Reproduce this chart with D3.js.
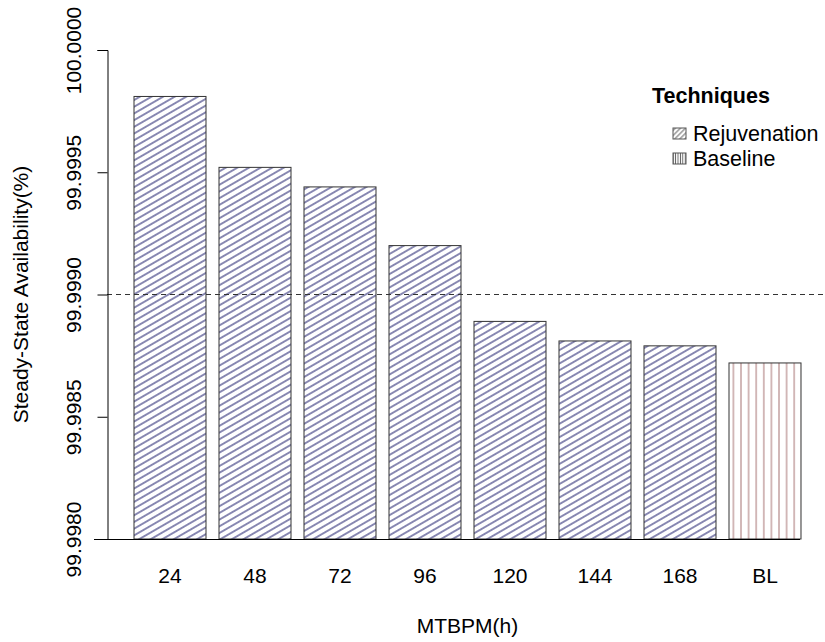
<!DOCTYPE html>
<html>
<head>
<meta charset="utf-8">
<script src="https://cdn.jsdelivr.net/npm/d3@7"></script>
<style>
  html, body { margin: 0; padding: 0; background: #fff; }
  svg { display: block; }
  text { font-family: "Liberation Sans", Arial, Helvetica, sans-serif; fill: #000; }
</style>
</head>
<body>
<svg id="chart" width="825" height="642"></svg>
<script>
// MTBPM values (hours) and the baseline, with steady-state availability in %
const categories = ["24", "48", "72", "96", "120", "144", "168", "BL"];
const availability = [99.99981, 99.99952, 99.99944, 99.99920, 99.99889, 99.99881, 99.99879, 99.99872];
const technique = ["Rejuvenation", "Rejuvenation", "Rejuvenation", "Rejuvenation",
                   "Rejuvenation", "Rejuvenation", "Rejuvenation", "Baseline"];
const yTicks = [99.9980, 99.9985, 99.9990, 99.9995, 100.0000];
const referenceLevel = 99.9990;
const legendItems = ["Rejuvenation", "Baseline"];

const svg = d3.select("#chart");
const defs = svg.append("defs");

// Hatch fills: diagonal for rejuvenation bars, vertical for the baseline bar
function hatch(id, spacing, angle, color, width) {
  const p = defs.append("pattern")
    .attr("id", id)
    .attr("patternUnits", "userSpaceOnUse")
    .attr("width", spacing)
    .attr("height", spacing)
    .attr("patternTransform", `rotate(${angle})`);
  p.append("rect").attr("width", spacing).attr("height", spacing).attr("fill", "#fff");
  p.append("line")
    .attr("x1", 0).attr("x2", spacing)
    .attr("y1", spacing / 2).attr("y2", spacing / 2)
    .attr("stroke", color).attr("stroke-width", width);
}
hatch("hatch-rejuv", 5.8, -30, "#34347c", 1.15);
hatch("hatch-base", 7.6, 90, "#b08080", 1.1);
hatch("legend-rejuv", 3.6, -45, "#555", 0.9);
hatch("legend-base", 2.4, 90, "#555", 0.9);

const fillFor = { Rejuvenation: "url(#hatch-rejuv)", Baseline: "url(#hatch-base)" };
const legendFill = { Rejuvenation: "url(#legend-rejuv)", Baseline: "url(#legend-base)" };

const x = d3.scaleBand()
  .domain(categories)
  .range([127.5, 807.5])
  .paddingInner(0.153)
  .paddingOuter(0.0765);

const y = d3.scaleLinear()
  .domain([yTicks[0], yTicks[yTicks.length - 1]])
  .range([539, 50]);

const fontSize = 21;

// Bars
svg.append("g").selectAll("rect")
  .data(categories)
  .join("rect")
  .attr("x", d => x(d))
  .attr("width", x.bandwidth())
  .attr("y", (d, i) => y(availability[i]))
  .attr("height", (d, i) => y(yTicks[0]) - y(availability[i]))
  .attr("fill", (d, i) => fillFor[technique[i]])
  .attr("stroke", "#333")
  .attr("stroke-width", 1);

// Dashed reference line
svg.append("line")
  .attr("x1", 107).attr("x2", 823)
  .attr("y1", y(referenceLevel)).attr("y2", y(referenceLevel))
  .attr("stroke", "#333")
  .attr("stroke-width", 1)
  .attr("stroke-dasharray", "5,4");

// Baseline under the bars
svg.append("line")
  .attr("x1", 94).attr("x2", 800)
  .attr("y1", y(yTicks[0]) + 0.5).attr("y2", y(yTicks[0]) + 0.5)
  .attr("stroke", "#000").attr("stroke-width", 1);

// Y axis
const yAxis = svg.append("g")
  .attr("transform", "translate(107.5,0)")
  .call(d3.axisLeft(y).tickValues(yTicks).tickFormat(d3.format(".4f")).tickSize(10).tickPadding(0));
yAxis.select(".domain").attr("stroke", "#000");
yAxis.selectAll(".tick line").attr("stroke", "#000");
yAxis.selectAll(".tick text")
  .attr("font-size", fontSize)
  .attr("font-family", "'Liberation Sans', Arial, sans-serif")
  .attr("text-anchor", "middle")
  .attr("x", 0).attr("dy", 0)
  .attr("transform", "translate(-27,0) rotate(-90)");

// X category labels
svg.append("g").selectAll("text")
  .data(categories)
  .join("text")
  .attr("x", d => x(d) + x.bandwidth() / 2)
  .attr("y", 583)
  .attr("text-anchor", "middle")
  .attr("font-size", fontSize)
  .text(d => d);

// Axis titles
const plotCenterX = (x(categories[0]) + x(categories[categories.length - 1]) + x.bandwidth()) / 2;
svg.append("text")
  .attr("x", plotCenterX).attr("y", 633)
  .attr("text-anchor", "middle")
  .attr("font-size", fontSize)
  .text("MTBPM(h)");

svg.append("text")
  .attr("transform", `translate(28,${(y.range()[0] + y.range()[1]) / 2}) rotate(-90)`)
  .attr("text-anchor", "middle")
  .attr("font-size", fontSize)
  .text("Steady-State Availability(%)");

// Legend
const legend = svg.append("g");
legend.append("text")
  .attr("x", 652).attr("y", 103)
  .attr("font-size", 21.5)
  .attr("font-weight", "bold")
  .text("Techniques");
const item = legend.selectAll("g.item")
  .data(legendItems)
  .join("g")
  .attr("class", "item")
  .attr("transform", (d, i) => `translate(0,${134 + i * 25})`);
item.append("rect")
  .attr("x", 673).attr("y", -6)
  .attr("width", 13).attr("height", 11)
  .attr("fill", d => legendFill[d])
  .attr("stroke", "#555").attr("stroke-width", 1);
item.append("text")
  .attr("x", 693).attr("y", 7)
  .attr("font-size", 21.5)
  .text(d => d);
</script>
</body>
</html>
